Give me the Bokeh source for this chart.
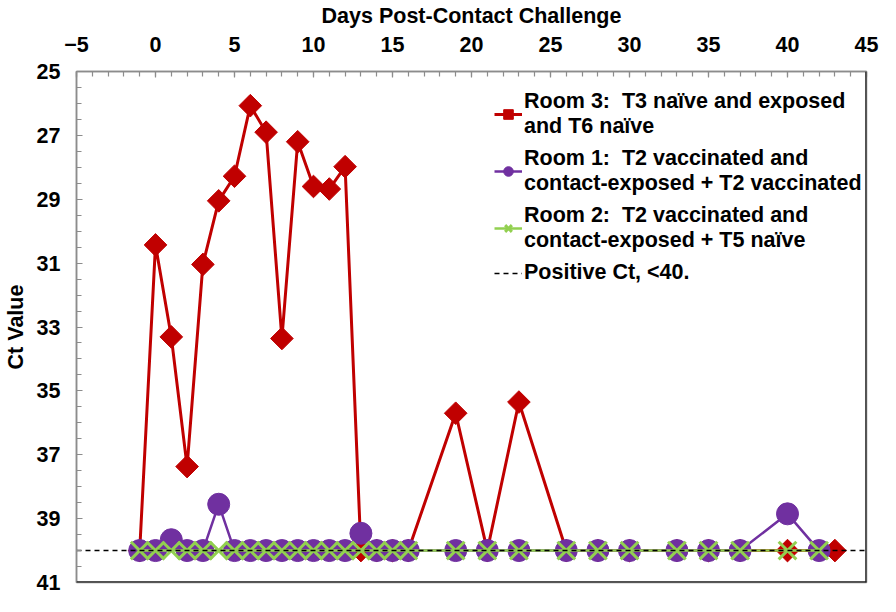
import math
from bokeh.plotting import figure
from bokeh.models import FixedTicker, Range1d, Legend, LegendItem, Span
from bokeh.embed import file_html
from bokeh.resources import INLINE

# ---- data ----
days_room3 = [-1, 0, 1, 2, 3, 4, 5, 6, 7, 8, 9, 10, 11, 12, 13, 14, 15, 16,
              19, 21, 23, 26, 28, 30, 33, 35, 37, 40, 43]
ct_room3 = [40, 30.43, 33.31, 37.37, 31.04, 29.05, 28.28, 26.07, 26.9, 33.36,
            27.2, 28.6, 28.68, 27.98, 40, 40, 40, 40,
            35.7, 40, 35.35, 40, 40, 40, 40, 40, 40, 40, 40]

days_room1 = [-1, 0, 1, 2, 3, 4, 5, 6, 7, 8, 9, 10, 11, 12, 13, 14, 15, 16,
              19, 21, 23, 26, 28, 30, 33, 35, 37, 40, 42]
ct_room1 = [40, 40, 39.66, 40, 40, 38.55, 40, 40, 40, 40, 40, 40, 40, 40, 39.46,
            40, 40, 40, 40, 40, 40, 40, 40, 40, 40, 40, 40, 38.85, 40]

days_room2 = [-1, 0, 1, 2, 3, 4, 5, 6, 7, 8, 9, 10, 11, 12, 13, 14, 15, 16,
              19, 21, 23, 26, 28, 30, 33, 35, 37, 40, 42]
ct_room2 = [40, 40, 40, 40, 40, 40, 40, 40, 40, 40, 40, 40, 40, 40, 40,
            40, 40, 40, 40, 40, 40, 40, 40, 40, 40, 40, 40, 40, 40]

threshold_ct = 40

x_ticks = [-5, 0, 5, 10, 15, 20, 25, 30, 35, 40, 45]
y_ticks = [25, 27, 29, 31, 33, 35, 37, 39, 41]

labels = [
    "Room 3:  T3 naïve and exposed\nand T6 naïve",
    "Room 1:  T2 vaccinated and\ncontact-exposed + T2 vaccinated",
    "Room 2:  T2 vaccinated and\ncontact-exposed + T5 naïve",
    "Positive Ct, <40.",
]

RED = "#C00000"
PURPLE = "#7030A0"
GREEN = "#92D050"
FONT = "Liberation Sans"
FS = "21.5px"

x_lo, x_hi = x_ticks[0], x_ticks[-1]
y_lo, y_hi = y_ticks[0], y_ticks[-1]

p = figure(width=880, height=596,
           x_range=Range1d(x_lo, x_hi), y_range=Range1d(y_hi, y_lo),
           x_axis_location="above",
           output_backend="svg", toolbar_location=None,
           min_border_left=76, min_border_top=71,
           min_border_right=14, min_border_bottom=14)
p.xgrid.visible = False
p.ygrid.visible = False
p.outline_line_color = "#8c8c8c"
p.outline_line_width = 1.5

p.xaxis.ticker = FixedTicker(ticks=x_ticks, minor_ticks=list(range(x_lo, x_hi + 1)))
p.yaxis.ticker = FixedTicker(ticks=y_ticks,
                             minor_ticks=[y_lo + 0.5 * i for i in range(int((y_hi - y_lo) * 2) + 1)])
p.xaxis.axis_label = "Days Post-Contact Challenge"
p.yaxis.axis_label = "Ct Value"

for ax in (p.xaxis[0], p.yaxis[0]):
    ax.axis_label_text_font = FONT
    ax.axis_label_text_font_style = "bold"
    ax.axis_label_text_font_size = FS
    ax.axis_label_text_color = "black"
    ax.major_label_text_font = FONT
    ax.major_label_text_font_style = "bold"
    ax.major_label_text_font_size = FS
    ax.major_label_text_color = "black"
    ax.axis_line_color = "#8c8c8c"
    ax.axis_line_width = 1.5
    ax.major_tick_line_color = "#8c8c8c"
    ax.minor_tick_line_color = "#8c8c8c"
    ax.major_tick_line_width = 1.2
    ax.minor_tick_line_width = 1.2
    ax.major_tick_in = 6
    ax.major_tick_out = 0
    ax.minor_tick_in = 5
    ax.minor_tick_out = 0

p.xaxis.major_label_standoff = 20
p.xaxis.axis_label_standoff = 6
p.yaxis.major_label_standoff = 16
p.yaxis.axis_label_standoff = 6

# ---- series ----
r3_line = p.line(days_room3, ct_room3, line_color=RED, line_width=3)
r3_pts = p.scatter(days_room3, ct_room3, marker="square", angle=math.pi / 4, size=16,
                   fill_color=RED, line_color=RED)
r1_line = p.line(days_room1, ct_room1, line_color=PURPLE, line_width=2.5)
r1_pts = p.scatter(days_room1, ct_room1, marker="circle", size=22,
                   fill_color=PURPLE, line_color=PURPLE)
r2_line = p.line(days_room2, ct_room2, line_color=GREEN, line_width=2.5)
r2_pts = p.scatter(days_room2, ct_room2, marker="x", size=25,
                   line_color=GREEN, line_width=3)
thr = p.line([x_lo, x_hi], [threshold_ct, threshold_ct], line_color="black",
             line_width=1.5, line_dash="5 4")

# dark right/bottom frame edges
p.add_layout(Span(location=x_hi, dimension="height", line_color="#222222", line_width=2.5))
p.add_layout(Span(location=y_hi, dimension="width", line_color="#222222", line_width=2.5))

legend = Legend(items=[
    LegendItem(label=labels[0], renderers=[r3_line, r3_pts]),
    LegendItem(label=labels[1], renderers=[r1_line, r1_pts]),
    LegendItem(label=labels[2], renderers=[r2_line, r2_pts]),
    LegendItem(label=labels[3], renderers=[thr]),
], location=(418, 297), padding=5, spacing=7,
   glyph_width=28, glyph_height=24, label_standoff=2,
   label_text_font=FONT, label_text_font_style="bold", label_text_font_size=FS,
   label_text_color="black", border_line_color=None, background_fill_alpha=0)
p.add_layout(legend)

open("out.html", "w").write(file_html(p, INLINE))
